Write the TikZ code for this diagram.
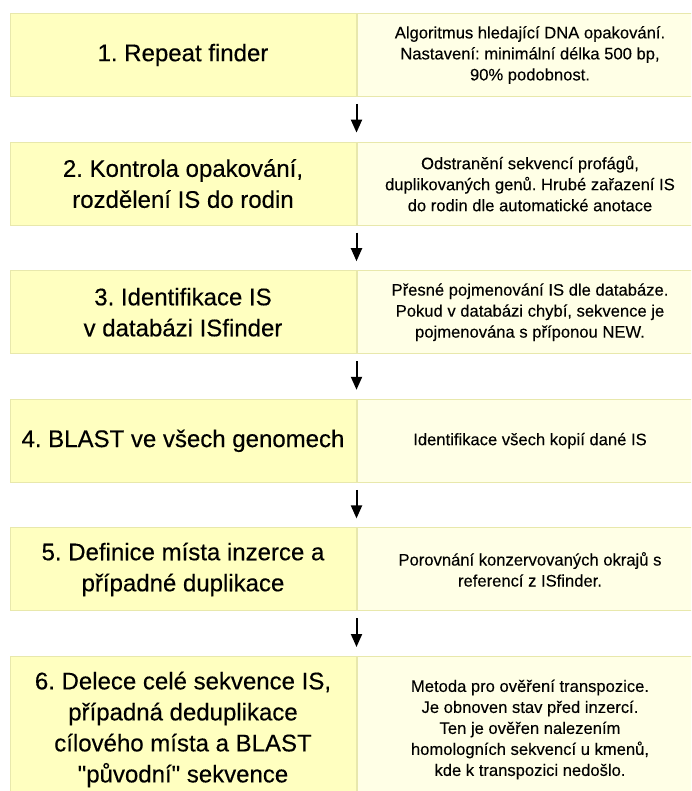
\documentclass[tikz,border=0pt]{standalone}
\usepackage{fontspec}
\setmainfont{Liberation Sans}
\newfontfamily\stepfont[FakeBold=0.35]{Liberation Sans}
\newfontfamily\notefont[FakeBold=0.2]{Liberation Sans}
\usepackage{tikz}
\usetikzlibrary{arrows.meta}
\definecolor{stepfill}{HTML}{FFFFC0}
\definecolor{notefill}{HTML}{FFFFE6}
\definecolor{edgeline}{HTML}{E8E8AC}
\frenchspacing

\begin{document}
\begin{tikzpicture}[
    x=1pt, y=1pt,
    stepbox/.style={draw=edgeline, line width=1pt, fill=stepfill, minimum width=346pt, minimum height=#1, align=center, anchor=north west, inner sep=0pt, font=\stepfont\fontsize{24}{31}\selectfont},
    stepbox/.default=83pt,
    notebox/.style={draw=edgeline, line width=1pt, fill=notefill, minimum width=346pt, minimum height=#1, align=center, anchor=north west, inner sep=0pt, font=\notefont\fontsize{16.6}{21}\selectfont},
    notebox/.default=83pt,
    arrow/.style={-{Triangle[length=13pt, width=11pt]}, line width=2pt, shorten <=7pt, shorten >=9pt}
]
% Page
\clip (0, 0) rectangle (691, -791);

% Step 1
\node[stepbox] (s1) at (9.5, -13) {1. Repeat finder};
\node[notebox] (n1) at (s1.north east) {Algoritmus hledající DNA opakování.\\Nastavení: minimální délka 500 bp,\\90\% podobnost.};

% Step 2
\node[stepbox] (s2) at (9.5, -141.6) {2. Kontrola opakování,\\rozdělení IS do rodin};
\node[notebox] (n2) at (s2.north east) {Odstranění sekvencí profágů,\\duplikovaných genů. Hrubé zařazení IS\\do rodin dle automatické anotace};

% Step 3
\node[stepbox] (s3) at (9.5, -270.2) {3. Identifikace IS\\v databázi ISfinder};
\node[notebox] (n3) at (s3.north east) {Přesné pojmenování IS dle databáze.\\Pokud v databázi chybí, sekvence je\\pojmenována s příponou NEW.};

% Step 4
\node[stepbox] (s4) at (9.5, -398.8) {4. BLAST ve všech genomech};
\node[notebox] (n4) at (s4.north east) {Identifikace všech kopií dané IS};

% Step 5
\node[stepbox] (s5) at (9.5, -527.4) {5. Definice místa inzerce a\\případné duplikace};
\node[notebox] (n5) at (s5.north east) {Porovnání konzervovaných okrajů s\\referencí z ISfinder.};

% Step 6
\node[stepbox=146pt] (s6) at (9.5, -656) {6. Delece celé sekvence IS,\\případná deduplikace\\cílového místa a BLAST\\\textquotedbl původní\textquotedbl{} sekvence};
\node[notebox=146pt] (n6) at (s6.north east) {Metoda pro ověření transpozice.\\Je obnoven stav před inzercí.\\Ten je ověřen nalezením\\homologních sekvencí u kmenů,\\kde k transpozici nedošlo.};

% Arrows
\draw[arrow] (s1.south east) -- (s2.north east);
\draw[arrow] (s2.south east) -- (s3.north east);
\draw[arrow] (s3.south east) -- (s4.north east);
\draw[arrow] (s4.south east) -- (s5.north east);
\draw[arrow] (s5.south east) -- (s6.north east);

\end{tikzpicture}
\end{document}
